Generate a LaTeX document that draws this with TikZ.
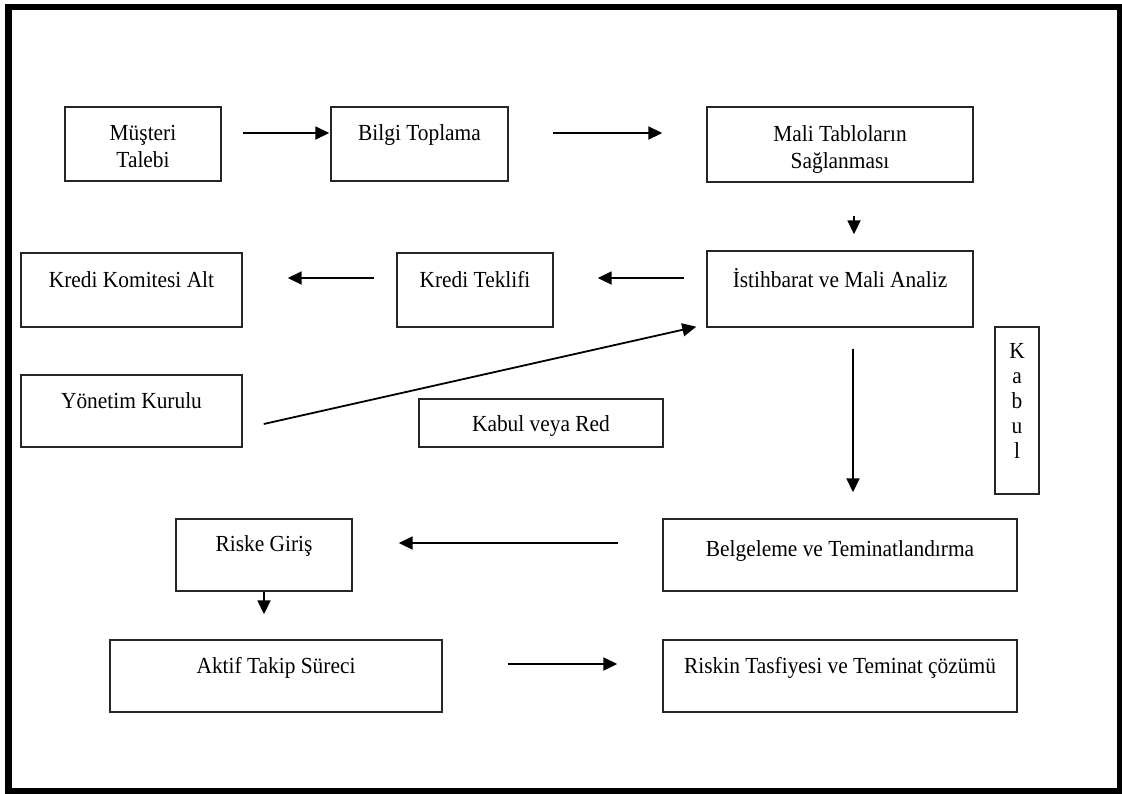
\documentclass[tikz,border=0pt]{standalone}
\usepackage{fontspec}
\setmainfont{Liberation Serif}[FakeStretch=0.93]
\usetikzlibrary{arrows.meta}
\begin{document}
\begin{tikzpicture}[x=1pt,y=-1pt,
  box/.style={draw=black!85, line width=1.4pt, inner sep=0pt},
  lbl/.style={anchor=base, inner sep=0pt, font=\fontsize{23}{27}\selectfont, align=center, text=black},
  arr/.style={line width=1.8pt, -{Triangle[length=14pt,width=13pt]}},
  frame/.style={line width=6.5pt, draw=black}]
\useasboundingbox (0,0) rectangle (1122,793);
\draw[frame] (8.5,7) rectangle (1120,791.5);

% boxes
\node[box, minimum width=156pt, minimum height=74pt] (mt)  at (143,144) {};
\node[box, minimum width=177pt, minimum height=74pt] (bt)  at (419.5,144) {};
\node[box, minimum width=266pt, minimum height=75pt] (mtb) at (840,144.5) {};
\node[box, minimum width=266pt, minimum height=76pt] (ist) at (840,289) {};
\node[box, minimum width=156pt, minimum height=74pt] (kt)  at (475,290) {};
\node[box, minimum width=221pt, minimum height=74pt] (kk)  at (131.5,290) {};
\node[box, minimum width=221pt, minimum height=72pt] (yk)  at (131.5,411) {};
\node[box, minimum width=244pt, minimum height=48pt] (kr)  at (541,423) {};
\node[box, minimum width=44pt,  minimum height=167pt] (kab) at (1017,410.5) {};
\node[box, minimum width=354pt, minimum height=72pt] (bel) at (840,555) {};
\node[box, minimum width=176pt, minimum height=72pt] (rg)  at (264,555) {};
\node[box, minimum width=332pt, minimum height=72pt] (at)  at (276,676) {};
\node[box, minimum width=354pt, minimum height=72pt] (rt)  at (840,676) {};

% texts (anchor base = baseline of the last line)
\node[lbl] (mt-t)  at (143,167) {Müşteri\\Talebi};
\node[lbl] (bt-t)  at (419.5,140) {Bilgi Toplama};
\node[lbl] (mtb-t) at (840,168) {Mali Tabloların\\Sağlanması};
\node[lbl] (ist-t) at (840,287) {İstihbarat ve Mali Analiz};
\node[lbl] (kt-t)  at (475,287) {Kredi Teklifi};
\node[lbl] (kk-t)  at (131.5,287) {Kredi Komitesi Alt};
\node[lbl] (yk-t)  at (131.5,408) {Yönetim Kurulu};
\node[lbl] (kr-t)  at (541,431) {Kabul veya Red};
\node[lbl, font=\fontsize{23}{25}\selectfont] (kab-t) at (1017,458) {K\\a\\b\\u\\l};
\node[lbl] (bel-t) at (840,556) {Belgeleme ve Teminatlandırma};
\node[lbl] (rg-t)  at (264,551) {Riske Giriş};
\node[lbl] (at-t)  at (276,673) {Aktif Takip Süreci};
\node[lbl] (rt-t)  at (840,673) {Riskin Tasfiyesi ve Teminat çözümü};

% connectors
\draw[arr, shorten <=21pt, shorten >=1pt]  ([yshift=11pt]mt.east) -- ([yshift=11pt]bt.west);
\draw[arr, shorten <=44pt, shorten >=44pt] ([yshift=11pt]bt.east) -- ([yshift=11.5pt]mtb.west);
\draw[arr] ([xshift=14pt,yshift=-33pt]mtb.south) -- ([xshift=14pt,yshift=16pt]ist.north);
\draw[arr, shorten <=22pt, shorten >=44pt] ([yshift=11pt]ist.west) -- ([yshift=12pt]kt.east);
\draw[arr, shorten <=22pt, shorten >=45pt] ([yshift=12pt]kt.west) -- ([yshift=12pt]kk.east);
\draw[arr] ([xshift=21pt,yshift=-13pt]yk.east) -- ([xshift=-10pt,yshift=1pt]ist.south west);
\draw[arr] ([xshift=13pt,yshift=-21pt]ist.south) -- ([xshift=13pt,yshift=26pt]bel.north);
\draw[arr, shorten <=44pt, shorten >=46pt] ([yshift=12pt]bel.west) -- ([yshift=12pt]rg.east);
\draw[arr, shorten >=25pt] (rg.south) -- (rg.south |- at.north);
\draw[arr, shorten <=65pt, shorten >=45pt] ([yshift=12pt]at.east) -- ([yshift=12pt]rt.west);
\end{tikzpicture}
\end{document}
